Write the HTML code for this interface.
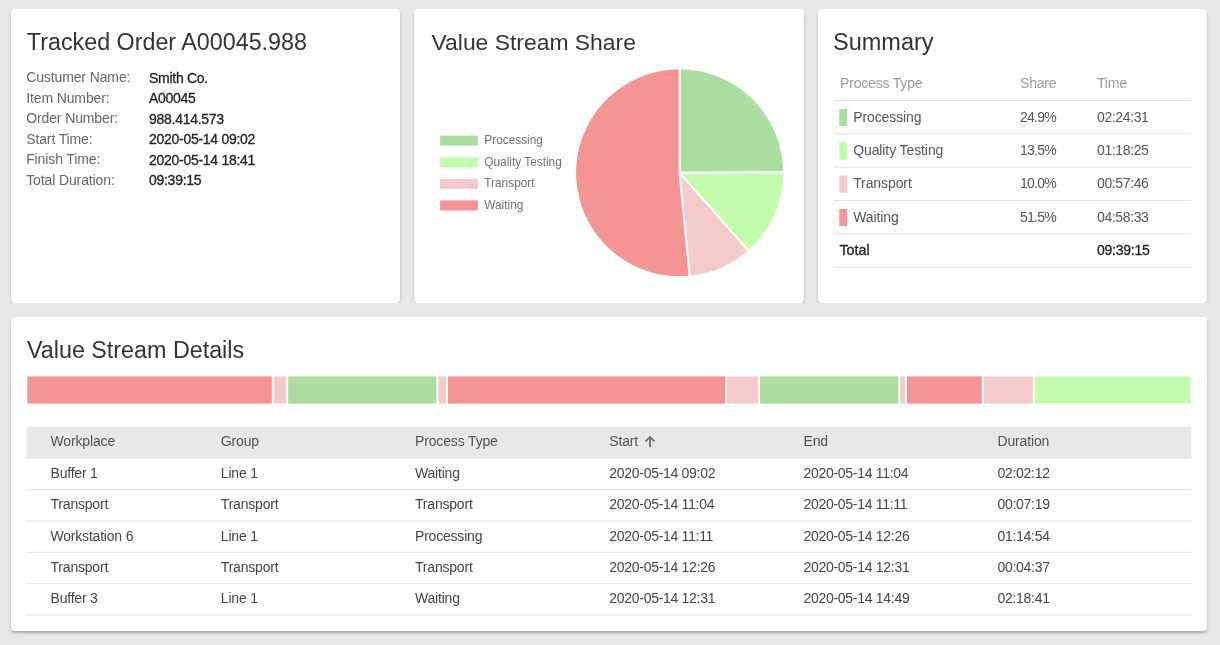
<!DOCTYPE html>
<html><head><meta charset="utf-8">
<style>
*{margin:0;padding:0;box-sizing:border-box}
html,body{width:1220px;height:645px;overflow:hidden;background:#e8e8e8;font-family:"Liberation Sans",sans-serif;position:relative}
.card{position:absolute;background:#fff;border-radius:4px}
.sh{box-shadow:0 2px 4px -1px rgba(0,0,0,.25),0 1.5px 1.5px rgba(0,0,0,.12)}
.t{position:absolute;white-space:nowrap}
.title{font-size:23.3px;line-height:28px;color:#333}
.lbl{letter-spacing:-0.12px;font-size:14px;line-height:20.5px;color:#666}
.val{letter-spacing:-0.28px;font-size:14px;line-height:20.5px;color:#222;-webkit-text-stroke:0.3px #222}
.sh3{font-size:14px;letter-spacing:-0.18px;line-height:20px;color:#9a9a9a}
.sc{letter-spacing:-0.1px;font-size:14px;line-height:20px;color:#555}
.scn{letter-spacing:-0.38px;font-size:14px;line-height:20px;color:#555}
.sb{font-size:13.8px;line-height:20px;color:#222;-webkit-text-stroke:0.3px #222}
.th{letter-spacing:-0.15px;font-size:14px;line-height:20px;color:#555}
.td{font-size:14px;line-height:20px;color:#444;letter-spacing:-0.2px}
.td.n{letter-spacing:-0.29px}
.hl{position:absolute;height:1px;background:#e0e0e0}
.bx{position:absolute}
</style></head>
<body>
<div id="root" style="position:absolute;left:0;top:0;width:1220px;height:645px;will-change:transform">
<div style="position:absolute;left:0;top:0;width:1220px;height:302.8px;overflow:hidden">
<div class="card sh" style="left:10.7px;top:8.8px;width:389.3px;height:294px"></div>
<div class="card sh" style="left:414px;top:8.8px;width:390px;height:294px"></div>
<div class="card sh" style="left:818px;top:8.8px;width:389.2px;height:294px"></div>
</div>
<div class="card sh" style="left:10.7px;top:316.6px;width:1196.5px;height:314.1px"></div>
<svg style="position:absolute;left:0;top:0" width="1220" height="645" viewBox="0 0 1220 645"><rect x="833.8" y="100.0" width="357.5" height="1" fill="#e0e0e0"/><rect x="833.8" y="133.33" width="357.5" height="1" fill="#e0e0e0"/><rect x="833.8" y="166.67" width="357.5" height="1" fill="#e0e0e0"/><rect x="833.8" y="200.0" width="357.5" height="1" fill="#e0e0e0"/><rect x="833.8" y="233.33" width="357.5" height="1" fill="#e0e0e0"/><rect x="833.8" y="266.67" width="357.5" height="1" fill="#e0e0e0"/><rect x="839.3" y="109.00" width="7.9" height="17.1" fill="#a9dea0"/><rect x="839.3" y="142.33" width="7.9" height="17.1" fill="#c2fdae"/><rect x="839.3" y="175.67" width="7.9" height="17.1" fill="#f5caca"/><rect x="839.3" y="209.00" width="7.9" height="17.1" fill="#f59494"/><rect x="27.3" y="376.4" width="244.5" height="27.2" fill="#f59494"/><rect x="273.8" y="376.4" width="12.4" height="27.2" fill="#f5caca"/><rect x="288.2" y="376.4" width="148.2" height="27.2" fill="#a9dea0"/><rect x="438.4" y="376.4" width="7.6" height="27.2" fill="#f5caca"/><rect x="448" y="376.4" width="277.0" height="27.2" fill="#f59494"/><rect x="726.8" y="376.4" width="31.4" height="27.2" fill="#f5caca"/><rect x="760" y="376.4" width="138.4" height="27.2" fill="#a9dea0"/><rect x="900.2" y="376.4" width="4.7" height="27.2" fill="#f5caca"/><rect x="907" y="376.4" width="74.8" height="27.2" fill="#f59494"/><rect x="983.8" y="376.4" width="49.0" height="27.2" fill="#f5caca"/><rect x="1034.6" y="376.4" width="155.8" height="27.2" fill="#c2fdae"/><rect x="26.4" y="426.5" width="1165" height="31.5" fill="#e8e8e8"/><rect x="26.4" y="457.5" width="1165" height="1" fill="#dcdcdc"/><rect x="26.3" y="489.15" width="1165" height="1" fill="#e0e0e0"/><rect x="26.3" y="520.48" width="1165" height="1" fill="#e0e0e0"/><rect x="26.3" y="551.81" width="1165" height="1" fill="#e0e0e0"/><rect x="26.3" y="583.14" width="1165" height="1" fill="#e0e0e0"/><rect x="26.3" y="614.47" width="1165" height="1" fill="#e0e0e0"/></svg>
<div class="t title" style="left:26.8px;top:27.5px">Tracked Order A00045.988</div>
<div class="t lbl" style="left:26.2px;top:67.1px">Custumer Name:<br>Item Number:<br>Order Number:<br>Start Time:<br>Finish Time:<br>Total Duration:</div>
<div class="t val" style="left:149px;top:67.8px">Smith Co.<br>A00045<br>988.414.573<br>2020-05-14 09:02<br>2020-05-14 18:41<br>09:39:15</div>
<div class="t title" style="left:431.5px;top:27.5px;font-size:22.9px">Value Stream Share</div>
<svg style="position:absolute;left:0;top:0" width="1220" height="645" viewBox="0 0 1220 645">
<g stroke="#fff" stroke-width="2" stroke-linejoin="round"><path d="M679.6 172.8L679.60 68.30A104.5 104.5 0 0 1 784.10 172.46Z" fill="#a9dea0"/><path d="M679.6 172.8L784.10 172.46A104.5 104.5 0 0 1 748.77 251.13Z" fill="#c2fdae"/><path d="M679.6 172.8L748.77 251.13A104.5 104.5 0 0 1 689.70 276.81Z" fill="#f5caca"/><path d="M679.6 172.8L689.70 276.81A104.5 104.5 0 1 1 679.60 68.30Z" fill="#f59494"/></g>
<rect x="440.1" y="135.6" width="37.7" height="10.1" fill="#a9dea0"/>
<rect x="440.1" y="157.2" width="37.7" height="10.1" fill="#c2fdae"/>
<rect x="440.1" y="178.8" width="37.7" height="10.1" fill="#f5caca"/>
<rect x="440.1" y="200.4" width="37.7" height="10.1" fill="#f59494"/>
<g font-family="Liberation Sans" font-size="11.85" fill="#707070">
<text x="484.3" y="144.2">Processing</text>
<text x="484.3" y="165.8">Quality Testing</text>
<text x="484.3" y="187.4">Transport</text>
<text x="484.3" y="209.0">Waiting</text>
</g></svg>
<div class="t title" style="left:833px;top:27.5px;font-size:23.5px">Summary</div>
<div class="t sh3" style="left:840px;top:73px">Process Type</div>
<div class="t sh3" style="left:1020px;top:73px">Share</div>
<div class="t sh3" style="left:1097px;top:73px">Time</div>
<div class="t sc" style="left:853.2px;top:106.9px">Processing</div>
<div class="t scn" style="left:1020px;top:106.9px;letter-spacing:-0.75px">24.9%</div>
<div class="t scn" style="left:1097px;top:106.9px">02:24:31</div>
<div class="t sc" style="left:853.2px;top:140.1px">Quality Testing</div>
<div class="t scn" style="left:1020px;top:140.1px;letter-spacing:-0.75px">13.5%</div>
<div class="t scn" style="left:1097px;top:140.1px">01:18:25</div>
<div class="t sc" style="left:853.2px;top:173.4px">Transport</div>
<div class="t scn" style="left:1020px;top:173.4px;letter-spacing:-0.75px">10.0%</div>
<div class="t scn" style="left:1097px;top:173.4px">00:57:46</div>
<div class="t sc" style="left:853.2px;top:206.7px">Waiting</div>
<div class="t scn" style="left:1020px;top:206.7px;letter-spacing:-0.75px">51.5%</div>
<div class="t scn" style="left:1097px;top:206.7px">04:58:33</div>
<div class="t sb" style="font-size:14.4px;left:839.4px;top:239.7px">Total</div>
<div class="t sb" style="font-size:14px;letter-spacing:-0.24px;left:1097px;top:239.9px">09:39:15</div>
<div class="t title" style="left:27px;top:335.5px">Value Stream Details</div>
<div class="t th" style="left:50.5px;top:431.2px">Workplace</div>
<div class="t th" style="left:220.8px;top:431.2px">Group</div>
<div class="t th" style="left:415px;top:431.2px">Process Type</div>
<div class="t th" style="left:609.3px;top:431.2px">Start</div>
<div class="t th" style="left:803.5px;top:431.2px">End</div>
<div class="t th" style="left:997.5px;top:431.2px">Duration</div>
<svg style="position:absolute;left:644.2px;top:434px" width="12" height="14" viewBox="0 0 12 14"><path d="M6 13V3M1.6 7.3L6 2.9l4.4 4.4" fill="none" stroke="#6e6e6e" stroke-width="1.8"/></svg>
<div class="t td" style="left:50.5px;top:463.40px">Buffer 1</div>
<div class="t td" style="left:220.8px;top:463.40px">Line 1</div>
<div class="t td" style="left:415px;top:463.40px">Waiting</div>
<div class="t td n" style="left:609.3px;top:463.40px">2020-05-14 09:02</div>
<div class="t td n" style="left:803.5px;top:463.40px">2020-05-14 11:04</div>
<div class="t td n" style="left:997.5px;top:463.40px">02:02:12</div>
<div class="t td" style="left:50.5px;top:494.30px">Transport</div>
<div class="t td" style="left:220.8px;top:494.30px">Transport</div>
<div class="t td" style="left:415px;top:494.30px">Transport</div>
<div class="t td n" style="left:609.3px;top:494.30px">2020-05-14 11:04</div>
<div class="t td n" style="left:803.5px;top:494.30px">2020-05-14 11:11</div>
<div class="t td n" style="left:997.5px;top:494.30px">00:07:19</div>
<div class="t td" style="left:50.5px;top:525.80px">Workstation 6</div>
<div class="t td" style="left:220.8px;top:525.80px">Line 1</div>
<div class="t td" style="left:415px;top:525.80px">Processing</div>
<div class="t td n" style="left:609.3px;top:525.80px">2020-05-14 11:11</div>
<div class="t td n" style="left:803.5px;top:525.80px">2020-05-14 12:26</div>
<div class="t td n" style="left:997.5px;top:525.80px">01:14:54</div>
<div class="t td" style="left:50.5px;top:557.20px">Transport</div>
<div class="t td" style="left:220.8px;top:557.20px">Transport</div>
<div class="t td" style="left:415px;top:557.20px">Transport</div>
<div class="t td n" style="left:609.3px;top:557.20px">2020-05-14 12:26</div>
<div class="t td n" style="left:803.5px;top:557.20px">2020-05-14 12:31</div>
<div class="t td n" style="left:997.5px;top:557.20px">00:04:37</div>
<div class="t td" style="left:50.5px;top:588.40px">Buffer 3</div>
<div class="t td" style="left:220.8px;top:588.40px">Line 1</div>
<div class="t td" style="left:415px;top:588.40px">Waiting</div>
<div class="t td n" style="left:609.3px;top:588.40px">2020-05-14 12:31</div>
<div class="t td n" style="left:803.5px;top:588.40px">2020-05-14 14:49</div>
<div class="t td n" style="left:997.5px;top:588.40px">02:18:41</div>
</div>
</body></html>
